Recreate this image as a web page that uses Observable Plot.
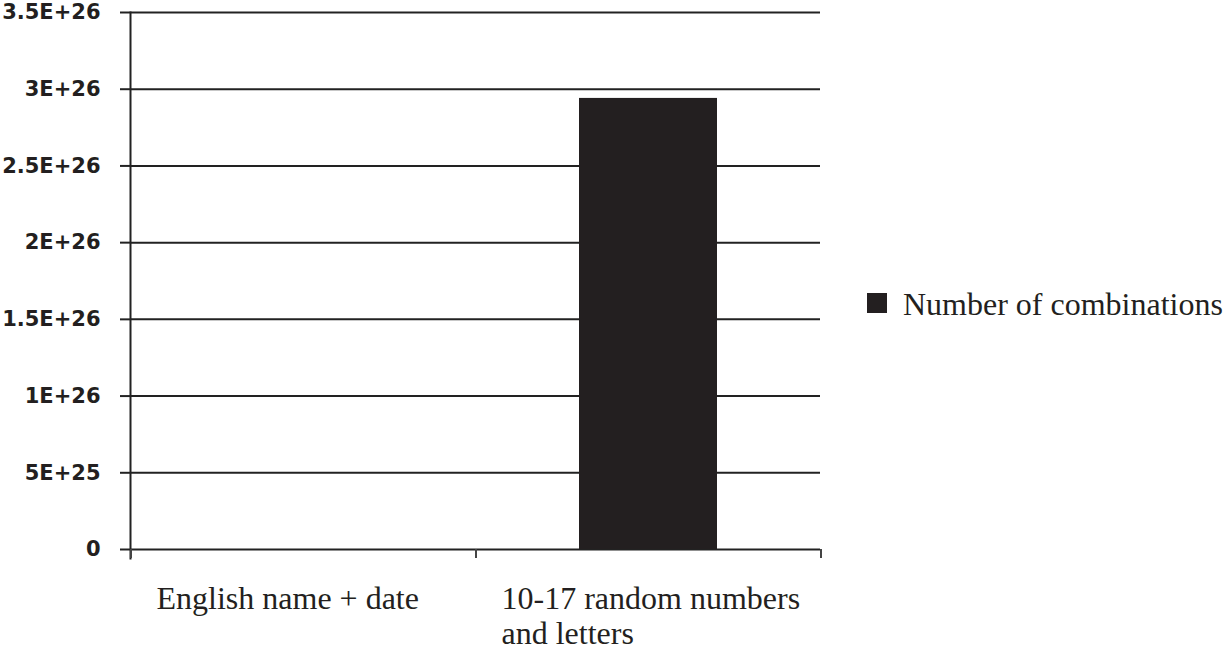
<!DOCTYPE html>
<html><head><meta charset="utf-8">
<script src="https://cdn.jsdelivr.net/npm/d3@7"></script>
<script src="https://cdn.jsdelivr.net/npm/@observablehq/plot@0.6"></script>
<style>
body{margin:0;background:#fff;}
#wrap{position:relative;width:1228px;height:652px;}
#legend{position:absolute;left:867px;top:288px;display:flex;align-items:flex-start;font-family:"Liberation Serif","Times New Roman",serif;font-size:32px;line-height:32px;color:#231f20;white-space:nowrap;}
#legend .sw{width:20px;height:20px;background:#231f20;margin-top:5px;margin-right:16px;flex:none;}
</style></head><body>
<div id="wrap"><div id="chart"></div><div id="legend"><div class="sw"></div><span id="legtext"></span></div></div>
<script>
const categories = ["English name + date", "10-17 random numbers\nand letters"];
const combinations = [2.6e9, 2.94e26];
const yTicks = [0, 5e25, 1e26, 1.5e26, 2e26, 2.5e26, 3e26, 3.5e26];
const seriesName = "Number of combinations";

const data = categories.map((c, i) => ({category: c, value: combinations[i]}));
const W = 850, ML = 130, MR = 30;
const step = (W - ML - MR) / categories.length;
const ink = "#231f20";
const fmt = d => d === 0 ? "0" : d.toExponential().toUpperCase();

const chart = Plot.plot({
  width: W, height: 652,
  marginLeft: ML, marginRight: MR, marginTop: 12, marginBottom: 103,
  style: {overflow: "visible"},
  x: {domain: categories, paddingInner: 0.6, paddingOuter: 0.3, axis: null},
  y: {domain: [0, 3.5e26], axis: null},
  marks: [
    Plot.gridY(yTicks, {stroke: "#222", strokeOpacity: 1, strokeWidth: 2}),
    Plot.axisY({ticks: yTicks, tickSize: 10, tickPadding: 20, tickFormat: fmt,
      fontSize: 21, fontWeight: "bold", fontFamily: "DejaVu Sans",
      stroke: "#222", strokeWidth: 2, fill: ink, label: null}),
    Plot.barY(data, {x: "category", y: "value", fill: ink}),
    Plot.frame({anchor: "left", stroke: "#222", strokeWidth: 2, insetBottom: -9}),
    Plot.axisX({ticks: categories, tickSize: 9, tickFormat: () => "", dx: -step / 2, stroke: "#444", strokeWidth: 2, label: null}),
    Plot.axisX({ticks: [categories[categories.length - 1]], tickSize: 9, tickFormat: () => "", dx: step / 2, stroke: "#444", strokeWidth: 2, label: null}),
    Plot.text(categories, {x: d => d, frameAnchor: "bottom", dy: 34, dx: -147,
      lineAnchor: "top", textAnchor: "start", lineHeight: 1.1,
      fontSize: 32, fontFamily: "Liberation Serif", fill: ink})
  ]
});
document.getElementById("chart").appendChild(chart);
document.getElementById("legtext").textContent = seriesName;
</script>
</body></html>
